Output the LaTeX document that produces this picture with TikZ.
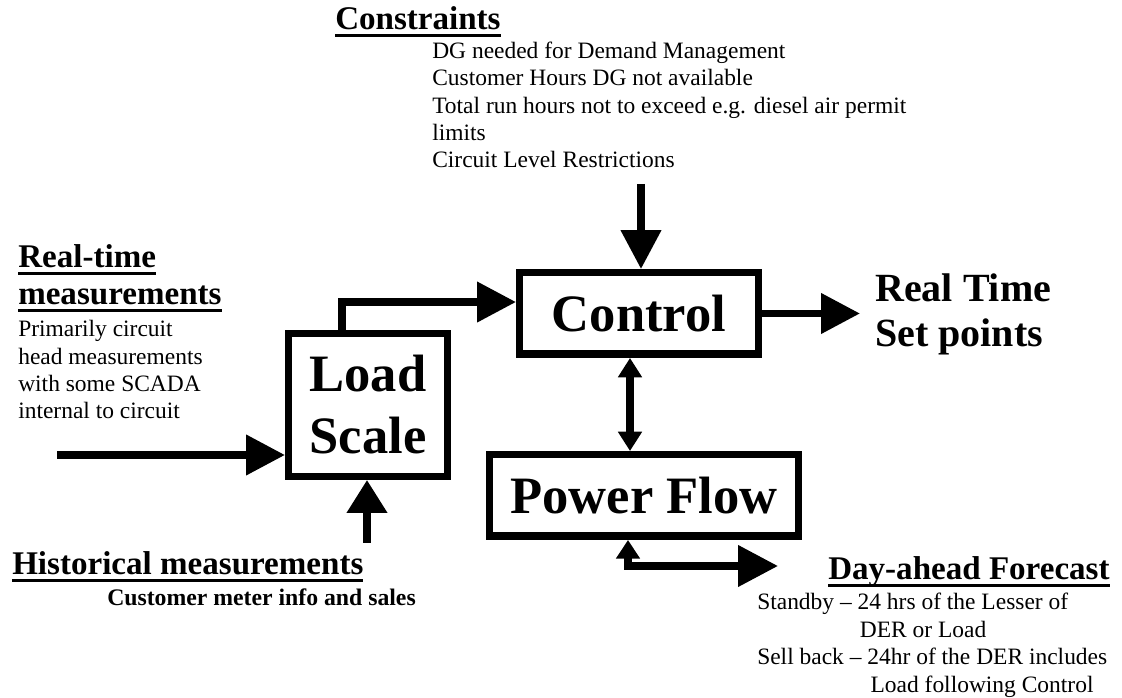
\documentclass[tikz,border=0pt]{standalone}
\usepackage{fontspec}
\setmainfont{Liberation Serif}
\usetikzlibrary{arrows.meta}
% underlined heading text with a thick rule
\newcommand\hdrule[1]{\setbox0=\hbox{#1}\rlap{\rule[-5.2pt]{\wd0}{2.3pt}}\box0}

\begin{document}
\begin{tikzpicture}[x=0.75pt,y=-0.75pt,
  blk/.style={draw, line width=5.6pt, inner sep=0pt, align=center,
    font=\fontsize{39.4}{46.5}\selectfont\bfseries},
  hdr/.style={inner sep=0pt, anchor=base west, align=left,
    font=\fontsize{24.8}{27.8}\selectfont\bfseries},
  body/.style={inner sep=0pt, anchor=base west, align=left,
    font=\fontsize{17.6}{20.6}\selectfont},
  wire/.style={line width=5.6pt},
  bigtip/.style={-{Triangle[length=29.25pt,width=29.25pt]}},
  histtip/.style={-{Triangle[length=24.75pt,width=29.25pt]}},
  bothtip/.style={{Triangle[length=14.5pt,width=17.25pt]}-{Triangle[length=14.5pt,width=17.25pt]}},
  fcsttip/.style={{Triangle[length=14pt,width=17.25pt]}-{Triangle[length=30pt,width=30pt]}}
]
\useasboundingbox (0,0) rectangle (1122,698);
\fill[white] (0,0) rectangle (1122,698);

% process blocks
\node[blk, minimum width=118.9pt, minimum height=106.9pt] (ls) at (368,405) {Load\\Scale};
\node[blk, minimum width=178.9pt, minimum height=61.1pt] (ctl) at (639,313.5) {Control};
\node[blk, minimum width=231.4pt, minimum height=61.1pt] (pf) at (644,495.5) {Power Flow};

% constraints (multi-line nodes are placed by the baseline of their last line)
\node[hdr] (conhd) at (335,30) {\hdrule{Constraints}};
\node[body] (conbody) at (432,168) {DG needed for Demand Management\\
  Customer Hours DG not available\\
  Total run hours not to exceed e.g. diesel air permit\\
  limits\\
  Circuit Level Restrictions};

% real-time measurements
\node[hdr, font=\fontsize{24.8}{27.75}\selectfont\bfseries] (rthd) at (18,305) {\hdrule{Real-time}\\\hdrule{measurements}};
\node[body] (rtbody) at (18,419) {Primarily circuit\\
  head measurements\\
  with some SCADA\\
  internal to circuit};

% historical measurements
\node[hdr] (hmhd) at (12,575) {\hdrule{Historical measurements}};
\node[body, font=\fontsize{17.8}{20.6}\selectfont\bfseries] (hmbody) at (107,605) {Customer meter info and sales};

% outputs
\node[hdr, font=\fontsize{30}{33.75}\selectfont\bfseries] (rtset) at (875,347) {Real Time\\Set points};
\node[hdr] (dahd) at (828,580) {\hdrule{Day-ahead Forecast}};
\node[body] (dabody) at (757,692) {Standby -- 24 hrs of the Lesser of\\
  \hspace*{77pt}DER or Load\\
  Sell back -- 24hr of the DER includes\\
  \hspace*{85pt}Load following Control};

% free ends of the connectors
\coordinate (rtin) at (57,455);
\coordinate (hmin) at (367,543);
\coordinate (conin) at (641,184);
\coordinate (setout) at (860,313.5);
\coordinate (dblx) at (630,0);
\coordinate (pfx) at (628,0);
\coordinate (daout) at (778,566);

% connectors
\draw[wire, bigtip] (rtin) -- (rtin -| ls.west);
\draw[wire, histtip] (hmin) -- (hmin |- ls.south);
\draw[wire, bigtip] ([xshift=-19.5pt]ls.north) |- ([yshift=8.6pt]ctl.west);
\draw[wire, bigtip] (conin) -- (conin |- ctl.north);
\draw[wire, bigtip] (ctl.east) -- (setout);
\draw[wire, bothtip] (ctl.south -| dblx) -- (pf.north -| dblx);
\draw[wire, fcsttip] (pf.south -| pfx) |- (daout);
\end{tikzpicture}
\end{document}
